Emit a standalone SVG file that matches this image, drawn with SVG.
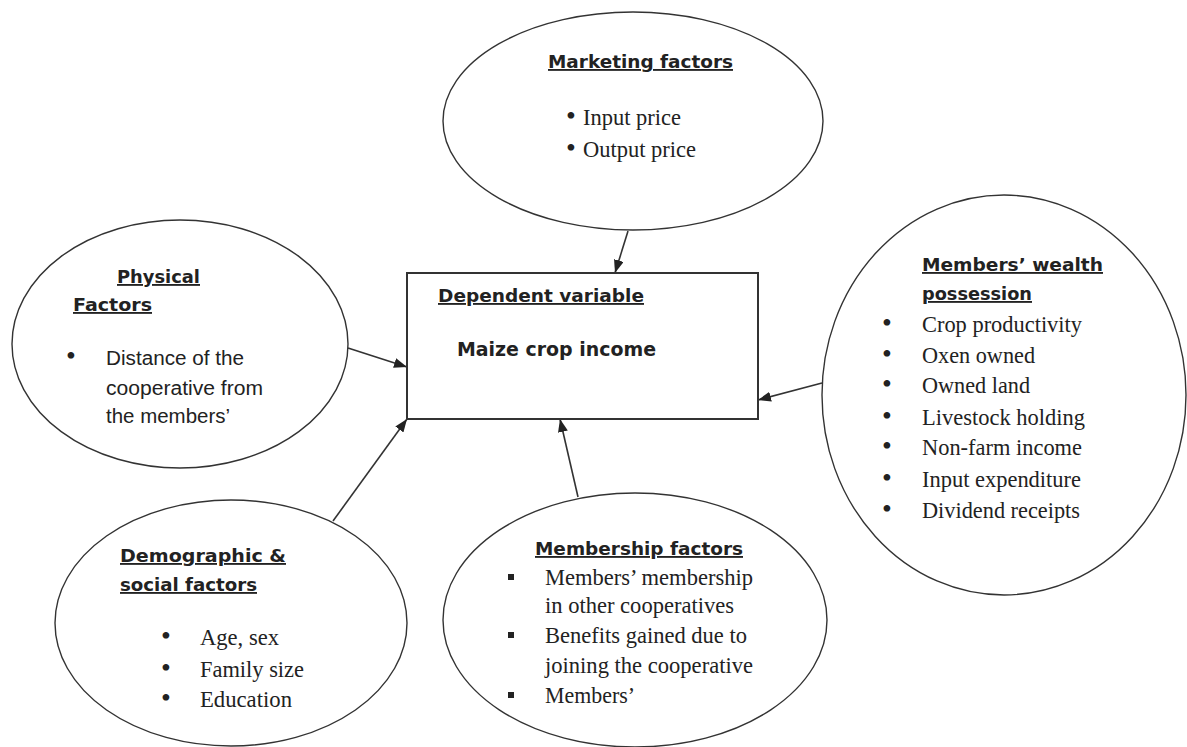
<svg xmlns="http://www.w3.org/2000/svg" width="1187" height="747" viewBox="0 0 1187 747">
<style>
.shape{fill:#fff;stroke:#333;stroke-width:1.4}
.box{fill:#fff;stroke:#333;stroke-width:2}
.h{font-family:"DejaVu Sans",sans-serif;font-weight:bold;font-size:18.5px;fill:#222;text-decoration:underline}
.hb{font-family:"DejaVu Sans",sans-serif;font-weight:bold;font-size:19px;fill:#222}
.s{font-family:"Liberation Sans",Arial,sans-serif;font-size:19.5px;fill:#222}
.t{font-family:"Liberation Serif","Times New Roman",serif;font-size:23px;fill:#222}
.b{font-family:"Liberation Serif","Times New Roman",serif;font-size:28px;fill:#222;text-anchor:middle}
.c{stroke:#333;stroke-width:1.6;fill:none}
</style>
<defs>
<marker id="arr" markerUnits="userSpaceOnUse" markerWidth="13" markerHeight="10" refX="13" refY="5" orient="auto">
<path d="M0,0 L13,5 L0,10 z" fill="#222"/>
</marker>
</defs>
<rect width="1187" height="747" fill="#fff"/>

<g id="connectors">
<line class="c" x1="628" y1="231" x2="615" y2="273" marker-end="url(#arr)"/>
<line class="c" x1="348" y1="348" x2="407" y2="367" marker-end="url(#arr)"/>
<line class="c" x1="333" y1="521" x2="407" y2="419" marker-end="url(#arr)"/>
<line class="c" x1="578" y1="497" x2="560" y2="419" marker-end="url(#arr)"/>
<line class="c" x1="822" y1="383" x2="758" y2="400" marker-end="url(#arr)"/>
</g>

<g id="marketing">
<ellipse class="shape" cx="633" cy="121" rx="190" ry="109"/>
<text class="h" x="548" y="68" textLength="185" lengthAdjust="spacingAndGlyphs">Marketing factors</text>
<text class="b" x="571" y="125">•</text>
<text class="t" x="583" y="125" textLength="98" lengthAdjust="spacingAndGlyphs">Input price</text>
<text class="b" x="571" y="157">•</text>
<text class="t" x="583" y="157" textLength="113" lengthAdjust="spacingAndGlyphs">Output price</text>
</g>

<g id="dependent">
<rect class="box" x="407" y="273" width="351" height="146"/>
<text class="h" x="438" y="302" textLength="206" lengthAdjust="spacingAndGlyphs">Dependent variable</text>
<text class="hb" x="457" y="356" textLength="199" lengthAdjust="spacingAndGlyphs">Maize crop income</text>
</g>

<g id="physical">
<ellipse class="shape" cx="180" cy="344" rx="168" ry="124"/>
<text class="h" x="117" y="283" textLength="83" lengthAdjust="spacingAndGlyphs">Physical</text>
<text class="h" x="73" y="311" textLength="79" lengthAdjust="spacingAndGlyphs">Factors</text>
<text class="b" x="71" y="365">•</text>
<text class="s" x="106" y="365" textLength="138" lengthAdjust="spacingAndGlyphs">Distance of the</text>
<text class="s" x="106" y="395" textLength="157" lengthAdjust="spacingAndGlyphs">cooperative from</text>
<text class="s" x="106" y="423" textLength="124" lengthAdjust="spacingAndGlyphs">the members’</text>
</g>

<g id="wealth">
<ellipse class="shape" cx="1004" cy="395" rx="182" ry="200"/>
<text class="h" x="922" y="271" textLength="181" lengthAdjust="spacingAndGlyphs">Members’ wealth</text>
<text class="h" x="922" y="300" textLength="110" lengthAdjust="spacingAndGlyphs">possession</text>
<text class="b" x="887" y="332">•</text>
<text class="t" x="922" y="332" textLength="160" lengthAdjust="spacingAndGlyphs">Crop productivity</text>
<text class="b" x="887" y="363">•</text>
<text class="t" x="922" y="363" textLength="113" lengthAdjust="spacingAndGlyphs">Oxen owned</text>
<text class="b" x="887" y="393">•</text>
<text class="t" x="922" y="393" textLength="108" lengthAdjust="spacingAndGlyphs">Owned land</text>
<text class="b" x="887" y="425">•</text>
<text class="t" x="922" y="425" textLength="163" lengthAdjust="spacingAndGlyphs">Livestock holding</text>
<text class="b" x="887" y="455">•</text>
<text class="t" x="922" y="455" textLength="160" lengthAdjust="spacingAndGlyphs">Non-farm income</text>
<text class="b" x="887" y="487">•</text>
<text class="t" x="922" y="487" textLength="159" lengthAdjust="spacingAndGlyphs">Input expenditure</text>
<text class="b" x="887" y="518">•</text>
<text class="t" x="922" y="518" textLength="158" lengthAdjust="spacingAndGlyphs">Dividend receipts</text>
</g>

<g id="demographic">
<ellipse class="shape" cx="231" cy="623" rx="176" ry="123"/>
<text class="h" x="120" y="562" textLength="166" lengthAdjust="spacingAndGlyphs">Demographic &amp;</text>
<text class="h" x="120" y="591" textLength="137" lengthAdjust="spacingAndGlyphs">social factors</text>
<text class="b" x="166" y="645">•</text>
<text class="t" x="200" y="645" textLength="79" lengthAdjust="spacingAndGlyphs">Age, sex</text>
<text class="b" x="166" y="677">•</text>
<text class="t" x="200" y="677" textLength="104" lengthAdjust="spacingAndGlyphs">Family size</text>
<text class="b" x="166" y="707">•</text>
<text class="t" x="200" y="707" textLength="92" lengthAdjust="spacingAndGlyphs">Education</text>
</g>

<g id="membership">
<ellipse class="shape" cx="635" cy="620" rx="192" ry="127"/>
<text class="h" x="535" y="555" textLength="208" lengthAdjust="spacingAndGlyphs">Membership factors</text>
<rect x="508" y="574" width="6" height="6" fill="#222"/>
<text class="t" x="545" y="585" textLength="208" lengthAdjust="spacingAndGlyphs">Members’ membership</text>
<text class="t" x="545" y="613" textLength="189" lengthAdjust="spacingAndGlyphs">in other cooperatives</text>
<rect x="508" y="632" width="6" height="6" fill="#222"/>
<text class="t" x="545" y="643" textLength="202" lengthAdjust="spacingAndGlyphs">Benefits gained due to</text>
<text class="t" x="545" y="673" textLength="208" lengthAdjust="spacingAndGlyphs">joining the cooperative</text>
<rect x="508" y="692" width="6" height="6" fill="#222"/>
<text class="t" x="545" y="703" textLength="90" lengthAdjust="spacingAndGlyphs">Members’</text>
</g>
</svg>
